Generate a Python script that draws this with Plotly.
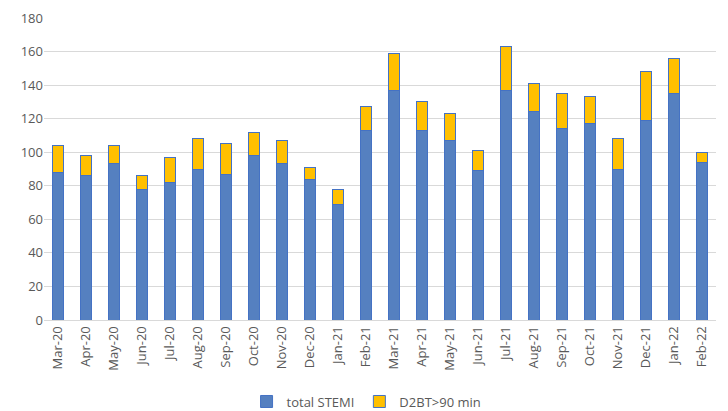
import plotly.graph_objects as go

months = ["Mar-20", "Apr-20", "May-20", "Jun-20", "Jul-20", "Aug-20", "Sep-20", "Oct-20",
          "Nov-20", "Dec-20", "Jan-21", "Feb-21", "Mar-21", "Apr-21", "May-21", "Jun-21",
          "Jul-21", "Aug-21", "Sep-21", "Oct-21", "Nov-21", "Dec-21", "Jan-22", "Feb-22"]
total_stemi = [88, 86, 93, 78, 82, 90, 87, 98, 93, 84, 69, 113,
               137, 113, 107, 89, 137, 124, 114, 117, 90, 119, 135, 94]
d2bt_over_90 = [16, 12, 11, 8, 15, 18, 18, 14, 14, 7, 9, 14,
                22, 17, 16, 12, 26, 17, 21, 16, 18, 29, 21, 6]

fig = go.Figure()
fig.add_trace(go.Bar(x=months, y=total_stemi, name="total STEMI",
                     marker=dict(color="#5580C0", line=dict(color="#4472C4", width=1))))
fig.add_trace(go.Bar(x=months, y=d2bt_over_90, name="D2BT>90 min",
                     marker=dict(color="#FFC000", line=dict(color="#4472C4", width=1))))

fig.update_layout(
    barmode="stack",
    bargap=0.6,
    width=728, height=411,
    margin=dict(l=44, r=12, t=18, b=91, autoexpand=False),
    paper_bgcolor="white", plot_bgcolor="white",
    font=dict(family="Open Sans", color="#595959", size=13),
    legend=dict(orientation="h", x=0.48, xanchor="center", y=-0.27, yanchor="middle",
                font=dict(size=13, color="#595959"), itemwidth=30, traceorder="normal"),
    xaxis=dict(tickangle=-90, showgrid=False, showline=True, linecolor="#D9D9D9",
               ticks="", tickfont=dict(size=13)),
    yaxis=dict(range=[0, 180], dtick=20, showgrid=True, gridcolor="#D9D9D9", gridwidth=1,
               zeroline=False, ticks="", tickfont=dict(size=13)),
)

fig.write_html("out.html", config={"displayModeBar": False},
               post_script="document.body.style.margin='0';")
